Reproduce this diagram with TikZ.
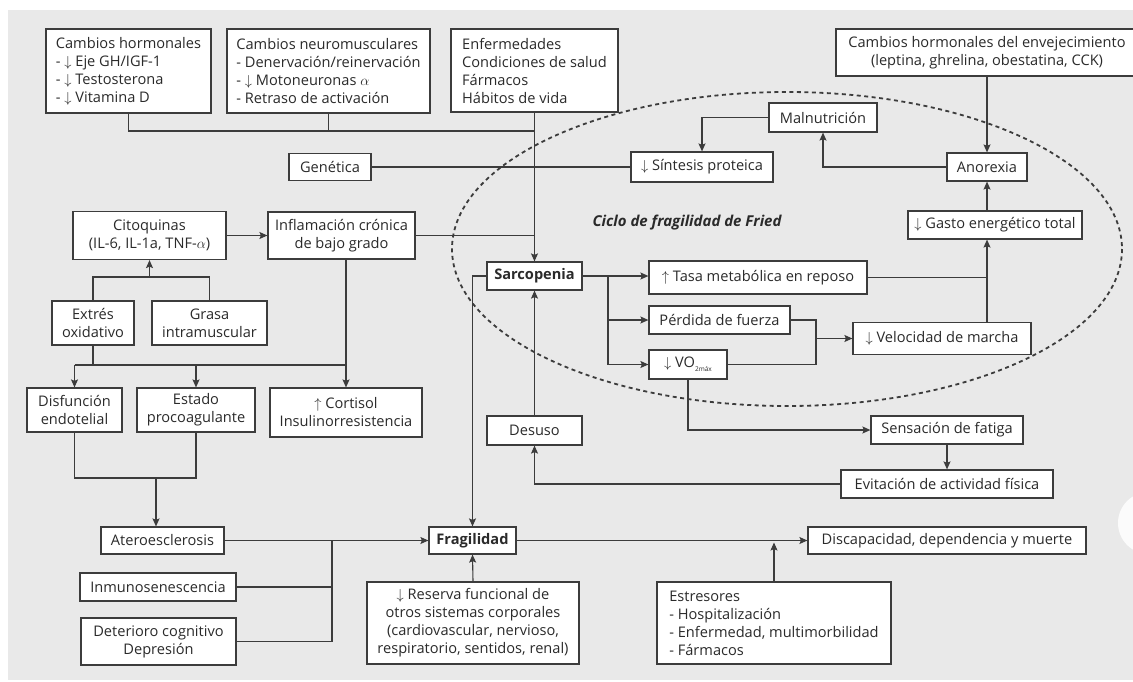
\documentclass[tikz,border=0pt]{standalone}
\usepackage{fontspec}
\setmainfont{Open Sans}
\usetikzlibrary{arrows.meta,calc}
\definecolor{bg}{HTML}{E9E9E9}
\definecolor{ln}{HTML}{3C3C3C}
\definecolor{tx}{HTML}{2A2A2A}
\newcommand{\myDown}{$\downarrow$}
\newcommand{\myUp}{$\uparrow$}
\begin{document}
\begin{tikzpicture}[x=1pt,y=-1pt,
  box/.style={draw=ln, fill=white, line width=1.2pt, text=tx, inner sep=1pt,
    font=\fontsize{14.6}{18}\selectfont, align=center},
  conn/.style={draw=ln, line width=1.1pt},
  arr/.style={conn, -{Stealth[length=8pt,width=7pt,inset=1.5pt]}},
  title/.style={text=tx, font=\fontsize{15}{18}\selectfont\bfseries\itshape}]
\useasboundingbox (0,0) rectangle (1133,681);
\fill[white] (0,0) rectangle (1133,681);
\fill[bg] (8,10) rectangle (1133,680);
\fill[white, opacity=0.85] (1149,523) circle (31);

% dashed Fried cycle
\draw[ln, line width=1.8pt, dash pattern=on 4pt off 3.5pt] (787,249) ellipse [x radius=335, y radius=157];
\node[title] (ciclo) at (687,223) {Ciclo de fragilidad de Fried};

% nodes
\node[box, minimum width=165pt, minimum height=84pt, align=left] (horm) at (128.5,71)
  {Cambios hormonales\\- \myDown{} Eje GH/IGF-1\\- \myDown{} Testosterona\\- \myDown{} Vitamina D};
\node[box, minimum width=203pt, minimum height=84pt, align=left] (neuro) at (328.5,71)
  {Cambios neuromusculares\\- Denervación/reinervación\\- \myDown{} Motoneuronas $\alpha$\\- Retraso de activación};
\node[box, minimum width=167pt, minimum height=83pt, align=left] (enf) at (534.5,70.5)
  {Enfermedades\\Condiciones de salud\\Fármacos\\Hábitos de vida};
\node[box, minimum width=302pt, minimum height=47pt] (env) at (987,52.5)
  {Cambios hormonales del envejecimiento\\(leptina, ghrelina, obestatina, CCK)};
\node[box, minimum width=82pt, minimum height=27pt] (gen) at (330,167) {Genética};
\node[box, minimum width=142pt, minimum height=30pt] (sint) at (702,167) {\myDown{} Síntesis proteica};
\node[box, minimum width=108pt, minimum height=29pt] (maln) at (823,117.5) {Malnutrición};
\node[box, minimum width=80pt, minimum height=28pt] (anor) at (987,167) {Anorexia};
\node[box, minimum width=174pt, minimum height=28pt] (gasto) at (995,225) {\myDown{} Gasto energético total};
\node[box, minimum width=153pt, minimum height=48pt] (cito) at (149.5,235.5) {Citoquinas\\(IL-6, IL-1a, TNF-$\alpha$)};
\node[box, minimum width=147pt, minimum height=47pt] (infl) at (341.5,235.5) {Inflamación crónica\\de bajo grado};
\node[box, minimum width=82pt, minimum height=44pt] (extr) at (93,323) {Extrés\\oxidativo};
\node[box, minimum width=115pt, minimum height=44pt] (grasa) at (209.5,323) {Grasa\\intramuscular};
\node[box, minimum width=95pt, minimum height=44pt] (disf) at (74.5,410) {Disfunción\\endotelial};
\node[box, minimum width=118pt, minimum height=44pt] (estado) at (196,410) {Estado\\procoagulante};
\node[box, minimum width=152pt, minimum height=49pt] (cort) at (346,412.5) {\myUp{} Cortisol\\Insulinorresistencia};
\node[box, minimum width=95pt, minimum height=28pt] (sarc) at (534.5,276) {\textbf{Sarcopenia}};
\node[box, minimum width=218pt, minimum height=33pt] (tasa) at (758,277.5) {\myUp{} Tasa metabólica en reposo};
\node[box, minimum width=141pt, minimum height=28pt] (perd) at (719.5,320) {Pérdida de fuerza};
\node[box, minimum width=78pt, minimum height=29pt] (vo2) at (688,364.5)
  {\myDown{} VO\raisebox{-4pt}{\fontsize{6.5}{7}\selectfont 2máx}};
\node[box, minimum width=178pt, minimum height=32pt] (vel) at (942,338.5) {\myDown{} Velocidad de marcha};
\node[box, minimum width=95pt, minimum height=29pt] (desuso) at (534.5,430.5) {Desuso};
\node[box, minimum width=152pt, minimum height=28pt] (sens) at (947,430) {Sensación de fatiga};
\node[box, minimum width=212pt, minimum height=28pt] (evit) at (947,484) {Evitación de actividad física};
\node[box, minimum width=123pt, minimum height=27pt] (atero) at (162.5,540.5) {Ateroesclerosis};
\node[box, minimum width=156pt, minimum height=28pt] (inmu) at (158,587) {Inmunosenescencia};
\node[box, minimum width=155pt, minimum height=47pt] (deter) at (158.5,641.5) {Deterioro cognitivo\\Depresión};
\node[box, minimum width=87pt, minimum height=27pt] (frag) at (472.5,540.5) {\textbf{Fragilidad}};
\node[box, minimum width=212pt, minimum height=82pt] (reserva) at (473,623)
  {\myDown{} Reserva funcional de\\otros sistemas corporales\\(cardiovascular, nervioso,\\respiratorio, sentidos, renal)};
\node[box, minimum width=234pt, minimum height=82pt, align=left] (estres) at (774,623)
  {Estresores\\- Hospitalización\\- Enfermedad, multimorbilidad\\- Fármacos};
\node[box, minimum width=278pt, minimum height=27pt] (disc) at (947,540.5) {Discapacidad, dependencia y muerte};

% junction coordinates
\coordinate (yTop) at (0,131);
\coordinate (yC) at (0,277);
\coordinate (yD) at (0,365);
\coordinate (yE) at (0,478);
\coordinate (aA) at (156,478);
\coordinate (xB) at (608,0);
\coordinate (xV) at (816,0);
\coordinate (xJ) at (332,0);

% top connectors
\draw[conn] (horm.south) |- (yTop -| enf.south);
\draw[conn] (neuro.south) -- (neuro.south |- yTop);
\draw[arr] (enf.south) -- (sarc.north);
\draw[conn] (gen.east) -- (sint.west);
\draw[arr] (maln.west) -| (sint.north);
\draw[arr] (anor.west) -| (maln.south);
\draw[arr] (env.south) -- (anor.north);
\draw[arr] (anor.south |- gasto.north) -- (anor.south);
\draw[arr] (anor.south |- vel.north) -- (anor.south |- gasto.south);
\draw[conn] (tasa.east) -- (tasa.east -| anor.south);

% left cluster
\draw[arr] (cito.east) -- (infl.west);
\draw[conn] (infl.east) -- (infl.east -| enf.south);
\draw[conn] (extr.north) |- (yC -| grasa.north) -- (grasa.north);
\draw[arr] (yC -| cito.south) -- (cito.south);
\draw[conn] (extr.south) -- (extr.south |- yD);
\draw[conn] (yD -| disf.north) -- (yD -| cort.north);
\draw[arr] (yD -| disf.north) -- (disf.north);
\draw[arr] (yD -| estado.north) -- (estado.north);
\draw[arr] (infl.south -| cort.north) -- (cort.north);
\draw[conn] (disf.south) |- (yE -| estado.south) -- (estado.south);
\draw[arr] (aA) -- (aA |- atero.north);

% sarcopenia cycle
\draw[arr] (sarc.west) -| (frag.north);
\draw[arr] (sarc.east) -- (sarc.east -| tasa.west);
\draw[arr] (sarc.east -| xB) |- (vo2.west);
\draw[arr] (xB |- perd.west) -- (perd.west);
\draw[conn] (perd.east) -| (xV |- vo2.east) -- (vo2.east);
\draw[arr] (xV |- vel.west) -- (vel.west);
\draw[arr] (vo2.south) |- (sens.west);
\draw[arr] (sens.south) -- (evit.north);
\draw[arr] (evit.west) -| (desuso.south);
\draw[arr] (desuso.north) -- (sarc.south);

% fragility
\draw[arr] (atero.east) -- (frag.west);
\draw[conn] (deter.east) -| (xJ |- atero.east);
\draw[conn] (inmu.east) -- (inmu.east -| xJ);
\draw[arr] (reserva.north) -- (frag.south);
\draw[arr] (frag.east) -- (disc.west);
\draw[arr, shorten >=2pt] (estres.north) -- (estres.north |- frag.east);
\end{tikzpicture}
\end{document}
